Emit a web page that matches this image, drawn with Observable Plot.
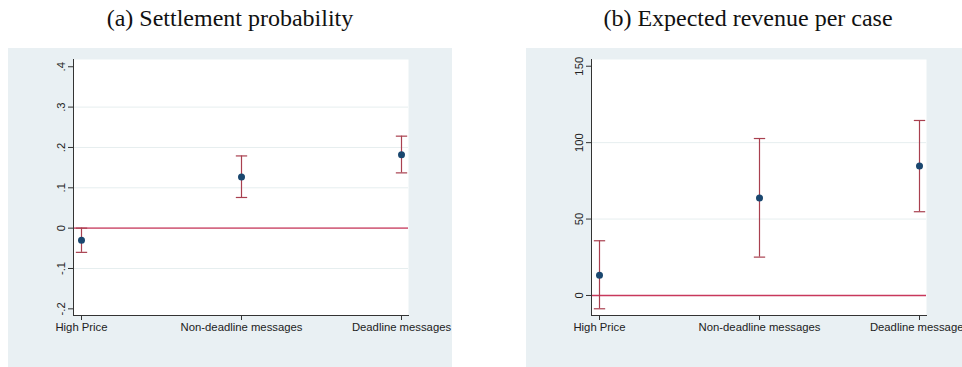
<!DOCTYPE html>
<html>
<head>
<meta charset="utf-8">
<script src="https://cdn.jsdelivr.net/npm/d3@7"></script>
<script src="https://cdn.jsdelivr.net/npm/@observablehq/plot@0.6"></script>
<style>
  html, body { margin: 0; padding: 0; background: #ffffff; }
  #root { position: relative; width: 962px; height: 367px; overflow: hidden; background: #ffffff; }
  .title { position: absolute; top: 4px; width: 444px; text-align: center;
           font-family: "Liberation Serif", "Times New Roman", serif; font-size: 24px; color: #111; line-height: 28px; }
  .panel { position: absolute; top: 48px; width: 444px; height: 319px; }
  .panel svg { max-width: none !important; display: block; }
</style>
</head>
<body>
<div id="root">
  <div class="title" style="left:8px">(a) Settlement probability</div>
  <div class="title" style="left:526px">(b) Expected revenue per case</div>
  <div class="panel" id="pa" style="left:8px"></div>
  <div class="panel" id="pb" style="left:526px"></div>
</div>
<script>
// ---- data ----
const categories = ["High Price", "Non-deadline messages", "Deadline messages"];

// (a) Settlement probability
const estA  = [-0.030, 0.127, 0.182];
const lowA  = [-0.060, 0.076, 0.137];
const highA = [ 0.000, 0.179, 0.228];
const yDomainA = [-0.2165, 0.418];
const yTicksA = [-0.2, -0.1, 0, 0.1, 0.2, 0.3, 0.4];
const yTickLabelsA = ["-.2", "-.1", "0", ".1", ".2", ".3", ".4"];
const gridA = [-0.1, 0.1, 0.2, 0.3];

// (b) Expected revenue per case
const estB  = [13.3, 63.8, 84.7];
const lowB  = [-8.7, 25.1, 54.8];
const highB = [35.8, 102.7, 114.5];
const yDomainB = [-13.1, 154.4];
const yTicksB = [0, 50, 100, 150];
const yTickLabelsB = ["0", "50", "100", "150"];
const gridB = [50, 100];

// ---- drawing ----
const capSymbol = {
  draw(ctx, size) {
    const w = Math.sqrt(size);
    ctx.moveTo(-w, 0);
    ctx.lineTo(w, 0);
  }
};

function panel(est, low, high, yDomain, yTicks, yLabels, grid, zeroColor, zeroWidth) {
  const data = categories.map((c, i) => ({cat: c, est: est[i], lo: low[i], hi: high[i]}));
  const labelOf = new Map(yTicks.map((t, i) => [t, yLabels[i]]));
  const barColor = "#a9404f";
  return Plot.plot({
    width: 444,
    height: 319,
    marginLeft: 65,
    marginRight: 44,
    marginTop: 11,
    marginBottom: 52,
    style: {background: "#e9f0f3", fontFamily: "'Liberation Sans', Arial, sans-serif", fontSize: "11.3px", color: "#222", overflow: "visible", maxWidth: "none"},
    x: {type: "point", domain: categories, padding: 0.042},
    y: {domain: yDomain},
    marks: [
      Plot.frame({fill: "#ffffff", stroke: null}),
      Plot.gridY(grid, {stroke: "#e6eeef", strokeOpacity: 1, strokeWidth: 1}),
      Plot.ruleY([0], {stroke: zeroColor, strokeWidth: zeroWidth, strokeOpacity: 1}),
      Plot.ruleX(data, {x: "cat", y1: "lo", y2: "hi", stroke: barColor, strokeWidth: 1.2}),
      Plot.dot(data, {x: "cat", y: "lo", symbol: capSymbol, r: 3.2, stroke: barColor, strokeWidth: 1.2}),
      Plot.dot(data, {x: "cat", y: "hi", symbol: capSymbol, r: 3.2, stroke: barColor, strokeWidth: 1.2}),
      Plot.dot(data, {x: "cat", y: "est", r: 3.5, fill: "#1a476f", stroke: null}),
      Plot.axisY({ticks: yTicks, tickFormat: d => labelOf.get(d), tickRotate: -90, tickSize: 5, tickPadding: 4, label: null, stroke: "#333", fill: "#222"}),
      Plot.axisX({tickSize: 5, tickPadding: 2, label: null, stroke: "#333", fill: "#222"}),
      Plot.frame({anchor: "left", stroke: "#333", strokeOpacity: 1}),
      Plot.frame({anchor: "bottom", stroke: "#333", strokeOpacity: 1})
    ]
  });
}

document.getElementById("pa").appendChild(
  panel(estA, lowA, highA, yDomainA, yTicksA, yTickLabelsA, gridA, "#d46a84", 1.6));
document.getElementById("pb").appendChild(
  panel(estB, lowB, highB, yDomainB, yTicksB, yTickLabelsB, gridB, "#c8385c", 1.4));
</script>
</body>
</html>
